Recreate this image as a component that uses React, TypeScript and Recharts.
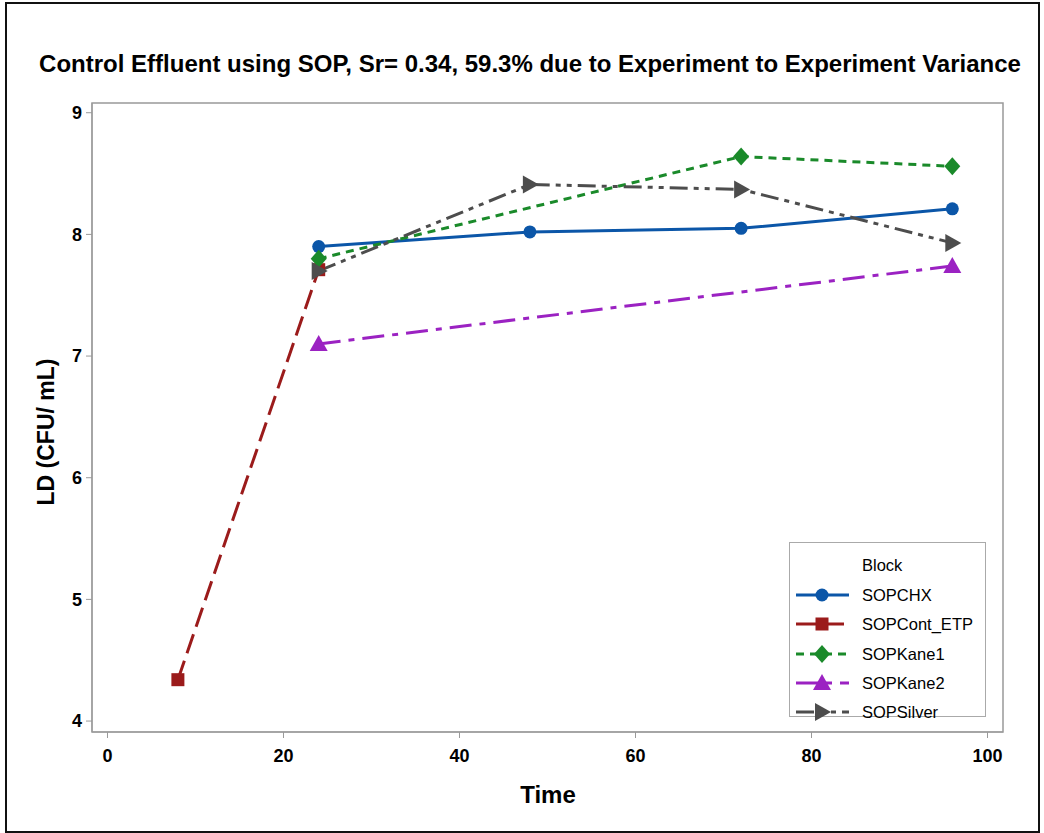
import React from "react";
import { LineChart, Line, XAxis, YAxis, ReferenceArea } from "recharts";

const chxTime = [24, 48, 72, 96];
const chxLD = [7.9, 8.02, 8.05, 8.21];
const contTime = [8, 24];
const contLD = [4.34, 7.71];
const kane1Time = [24, 72, 96];
const kane1LD = [7.8, 8.64, 8.56];
const kane2Time = [24, 96];
const kane2LD = [7.1, 7.74];
const silverTime = [24, 48, 72, 96];
const silverLD = [7.7, 8.41, 8.37, 7.93];

const xTicks = [0, 20, 40, 60, 80, 100];
const yTicks = [4, 5, 6, 7, 8, 9];

const TITLE = "Control Effluent using SOP, Sr= 0.34, 59.3% due to Experiment to Experiment Variance";

type Shape = "circle" | "square" | "diamond" | "triangle" | "arrow";

const series = [
  { name: "SOPCHX", time: chxTime, ld: chxLD, color: "#0B56A8", dash: undefined as string | undefined, shape: "circle" as Shape },
  { name: "SOPCont_ETP", time: contTime, ld: contLD, color: "#9B1B1B", dash: "20 8", shape: "square" as Shape },
  { name: "SOPKane1", time: kane1Time, ld: kane1LD, color: "#1A8A2A", dash: "8 6", shape: "diamond" as Shape },
  { name: "SOPKane2", time: kane2Time, ld: kane2LD, color: "#9B22C2", dash: "22 8 6 8", shape: "triangle" as Shape },
  { name: "SOPSilver", time: silverTime, ld: silverLD, color: "#4D4D4D", dash: "18 6 5 6 5 6", shape: "arrow" as Shape },
];

function marker(shape: Shape, cx: number, cy: number, color: string, key?: any) {
  switch (shape) {
    case "circle":
      return <circle key={key} cx={cx} cy={cy} r={6.5} fill={color} />;
    case "square":
      return <rect key={key} x={cx - 6.5} y={cy - 6.5} width={13} height={13} fill={color} />;
    case "diamond":
      return <polygon key={key} points={`${cx},${cy - 9} ${cx + 8},${cy} ${cx},${cy + 9} ${cx - 8},${cy}`} fill={color} />;
    case "triangle":
      return <polygon key={key} points={`${cx},${cy - 9} ${cx + 9},${cy + 7} ${cx - 9},${cy + 7}`} fill={color} />;
    case "arrow":
      return <polygon key={key} points={`${cx - 7},${cy - 9} ${cx + 9},${cy} ${cx - 7},${cy + 9}`} fill={color} />;
  }
  return null;
}

const FONT = "'Liberation Sans', Arial, sans-serif";

export default function App() {
  return (
    <div style={{ position: "absolute", left: 0, top: 0, width: 1044, height: 833, background: "#fff", fontFamily: FONT }}>
      <div style={{ position: "absolute", left: 5, top: 2, width: 1031, height: 827, border: "2px solid #111" }} />
      <div
        style={{
          position: "absolute",
          left: 0,
          width: 1060,
          top: 50,
          textAlign: "center",
          fontSize: 24,
          lineHeight: "28px",
          fontWeight: "bold",
          color: "#000",
        }}
      >
        {TITLE}
      </div>
      <div
        style={{
          position: "absolute",
          left: 46 - 100,
          top: 432 - 14,
          width: 200,
          textAlign: "center",
          fontSize: 23,
          lineHeight: "28px",
          fontWeight: "bold",
          transform: "rotate(-90deg)",
        }}
      >
        LD (CFU/ mL)
      </div>
      <div
        style={{
          position: "absolute",
          left: 548 - 100,
          top: 781,
          width: 200,
          textAlign: "center",
          fontSize: 24,
          lineHeight: "28px",
          fontWeight: "bold",
        }}
      >
        Time
      </div>
      <div style={{ position: "absolute", left: 0, top: 0 }}>
        <LineChart width={1044} height={833} margin={{ top: 103, right: 41, bottom: 61, left: 32 }}>
          <XAxis
            type="number"
            dataKey="x"
            domain={[-1.76, 101.76]}
            ticks={xTicks}
            allowDataOverflow
            height={40}
            tickSize={6}
            tickMargin={11}
            stroke="#999"
            tick={{ fill: "#000", fontSize: 18, fontWeight: "bold", fontFamily: FONT }}
          />
          <YAxis
            type="number"
            dataKey="y"
            domain={[3.91, 9.08]}
            ticks={yTicks}
            allowDataOverflow
            width={60}
            tickSize={6}
            tickMargin={4}
            stroke="#999"
            tick={{ fill: "#000", fontSize: 18, fontWeight: "bold", fontFamily: FONT }}
          />
          <ReferenceArea x1={-1.76} x2={101.76} y1={3.91} y2={9.08} fill="none" stroke="#999" strokeWidth={1.5} ifOverflow="visible" />
          {series.map((s) => (
            <Line
              key={s.name}
              data={s.time.map((t, i) => ({ x: t, y: s.ld[i] }))}
              dataKey="y"
              name={s.name}
              stroke={s.color}
              strokeWidth={3}
              strokeDasharray={s.dash}
              isAnimationActive={false}
              dot={(p: any) => marker(s.shape, p.cx, p.cy, s.color, `${s.name}-${p.index}`)}
              activeDot={false}
            />
          ))}
        </LineChart>
      </div>
      <div
        style={{
          position: "absolute",
          left: 789,
          top: 542,
          width: 197,
          height: 175,
          border: "1.5px solid #aaa",
          boxSizing: "border-box",
          background: "#fff",
        }}
      />
      <div style={{ position: "absolute", left: 862, top: 565 - 11, fontSize: 16.5, lineHeight: "22px", color: "#000" }}>Block</div>
      {series.map((s, i) => {
        const cy = 595 + i * 29.3;
        return (
          <div key={s.name}>
            <svg style={{ position: "absolute", left: 790, top: cy - 12 }} width={66} height={24}>
              <line x1={6} y1={12} x2={59} y2={12} stroke={s.color} strokeWidth={3} strokeDasharray={s.dash} />
              {marker(s.shape, 32, 12, s.color)}
            </svg>
            <div style={{ position: "absolute", left: 862, top: cy - 11, fontSize: 16.5, lineHeight: "22px", color: "#000", whiteSpace: "nowrap" }}>
              {s.name}
            </div>
          </div>
        );
      })}
    </div>
  );
}
